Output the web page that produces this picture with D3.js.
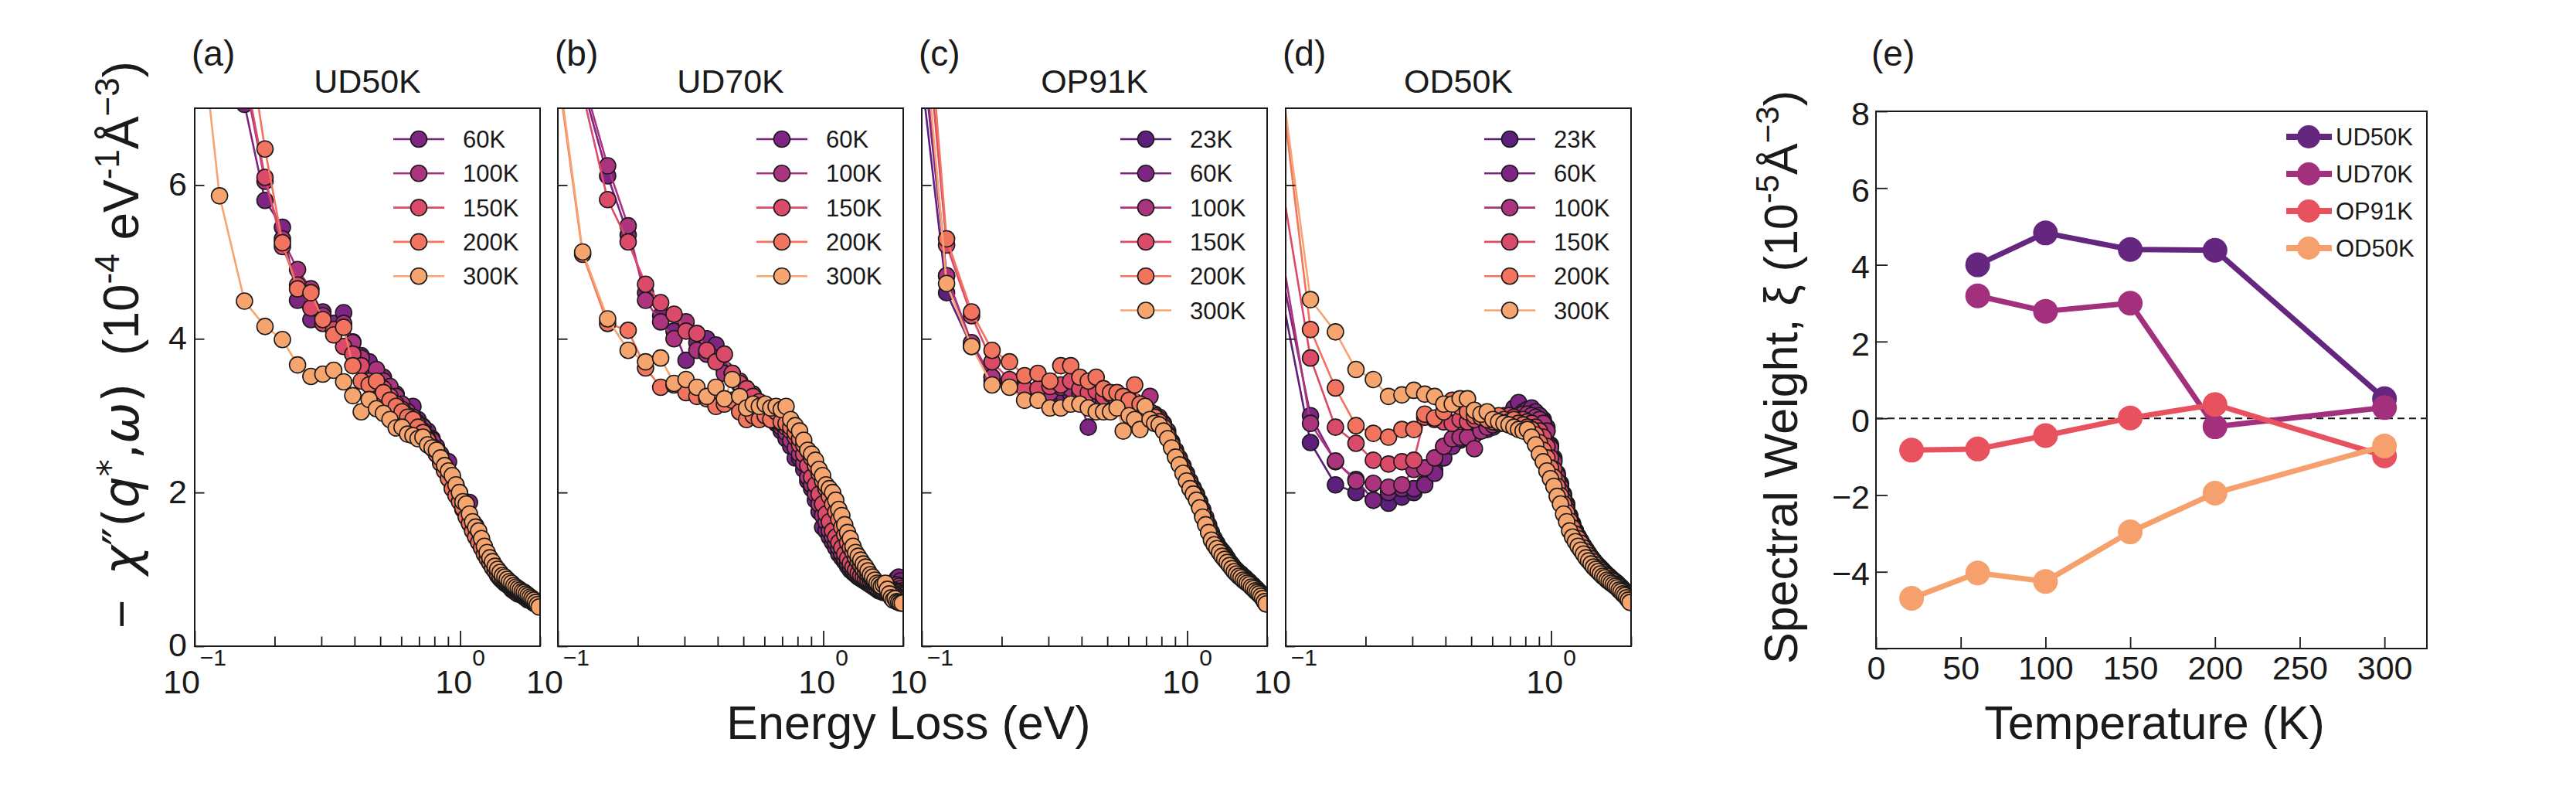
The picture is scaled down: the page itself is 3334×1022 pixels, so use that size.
<!DOCTYPE html>
<html>
<head>
<meta charset="utf-8">
<script src="https://cdn.jsdelivr.net/npm/d3@7"></script>
<style>
  body { margin: 0; background: #fff; }
  svg { display: block; }
  text { font-family: "Liberation Sans", Arial, Helvetica, sans-serif; fill: #1a1a1a; }
</style>
</head>
<body>
<script>
// energy grid shared by the four spectra panels (eV)
var energy = [0.064, 0.124, 0.154, 0.184, 0.214, 0.244, 0.274, 0.304,
  0.334, 0.364, 0.394, 0.424, 0.454, 0.484, 0.514, 0.544,
  0.574, 0.604, 0.634, 0.664, 0.694, 0.724, 0.754, 0.784,
  0.814, 0.844, 0.874, 0.904, 0.934, 0.964, 0.994, 1.024,
  1.054, 1.084, 1.114, 1.144, 1.174, 1.204, 1.234, 1.264,
  1.294, 1.324, 1.354, 1.384, 1.414, 1.444, 1.474, 1.504,
  1.534, 1.564, 1.594, 1.624, 1.654, 1.684, 1.714, 1.744,
  1.774, 1.804, 1.834, 1.864, 1.894, 1.924, 1.954, 1.984];

// (a) UD50K
var ud50k_60K = [20, 10.5, 7.05, 5.8, 5.45, 4.5, 4.25, 4.35,
  4.2, 4.34, 3.96, 3.78, 3.7, 3.58, 3.5, 3.35,
  3.28, 3.12, 3.1, 3.12, 2.95, 2.86, 2.8, 2.7,
  2.6, 2.5, 2.42, 2.4, 2.2, 2.1, 2.0, 1.9,
  1.85, 1.87, 1.62, 1.57, 1.45, 1.36, 1.28, 1.2,
  1.12, 1.05, 0.98, 0.92, 0.88, 0.85, 0.82, 0.8,
  0.78, 0.74, 0.72, 0.7, 0.68, 0.68, 0.66, 0.64,
  0.62, 0.6, 0.6, 0.58, 0.56, 0.55, 0.54, 0.53];
var ud50k_100K = [20, 11, 7.4, 6.05, 5.3, 4.9, 4.65, 4.3,
  4.1, 4.2, 3.95, 3.75, 3.55, 3.6, 3.45, 3.38,
  3.25, 3.15, 3.05, 2.98, 2.9, 2.85, 2.72, 2.68,
  2.55, 2.45, 2.35, 2.25, 2.15, 2.02, 1.95, 1.85,
  1.75, 1.65, 1.55, 1.48, 1.4, 1.33, 1.25, 1.18,
  1.12, 1.07, 1.02, 0.97, 0.94, 0.9, 0.87, 0.84,
  0.82, 0.79, 0.77, 0.75, 0.73, 0.7, 0.68, 0.66,
  0.64, 0.63, 0.61, 0.6, 0.58, 0.57, 0.55, 0.54];
var ud50k_150K = [20, 11.5, 7.5, 6.1, 5.2, 4.7, 4.4, 4.2,
  4.12, 3.9, 3.8, 3.65, 3.45, 3.4, 3.35, 3.25,
  3.15, 3.08, 3.0, 2.92, 2.88, 2.8, 2.7, 2.6,
  2.5, 2.42, 2.3, 2.2, 2.1, 1.98, 1.9, 1.78,
  1.7, 1.6, 1.52, 1.44, 1.36, 1.3, 1.22, 1.16,
  1.1, 1.04, 0.99, 0.95, 0.91, 0.88, 0.85, 0.83,
  0.8, 0.78, 0.76, 0.74, 0.72, 0.7, 0.68, 0.67,
  0.65, 0.63, 0.62, 0.6, 0.58, 0.57, 0.56, 0.55];
var ud50k_200K = [20, 12, 8.2, 6.47, 5.25, 4.65, 4.6, 4.25,
  4.05, 4.15, 3.65, 3.45, 3.4, 3.45, 3.3, 3.2,
  3.12, 3.05, 2.98, 2.95, 2.85, 2.78, 2.68, 2.58,
  2.5, 2.38, 2.28, 2.18, 2.05, 1.96, 1.88, 1.8,
  1.68, 1.6, 1.5, 1.42, 1.35, 1.28, 1.2, 1.14,
  1.08, 1.02, 0.98, 0.94, 0.9, 0.88, 0.86, 0.84,
  0.82, 0.8, 0.78, 0.76, 0.74, 0.72, 0.7, 0.69,
  0.67, 0.65, 0.64, 0.62, 0.6, 0.59, 0.58, 0.57];
var ud50k_300K = [15, 5.86, 4.49, 4.16, 3.99, 3.66, 3.51, 3.54,
  3.59, 3.44, 3.26, 3.05, 3.21, 3.09, 3.03, 2.95,
  2.84, 2.85, 2.76, 2.74, 2.7, 2.72, 2.62, 2.58,
  2.55, 2.45, 2.35, 2.28, 2.22, 2.1, 2.0, 1.88,
  1.85, 1.72, 1.62, 1.55, 1.5, 1.4, 1.3, 1.22,
  1.15, 1.1, 1.04, 1.0, 0.96, 0.92, 0.9, 0.87,
  0.84, 0.82, 0.79, 0.77, 0.75, 0.73, 0.71, 0.7,
  0.68, 0.66, 0.64, 0.62, 0.6, 0.57, 0.54, 0.51];

// (b) UD70K
var ud70k_60K = [15, 7.3, 6.12, 5.35, 4.6, 4.3, 4.1, 3.72,
  3.95, 4.0, 3.92, 3.6, 3.5, 3.4, 3.3, 3.2,
  3.1, 3.0, 2.95, 2.9, 2.8, 2.7, 2.6, 2.45,
  2.45, 2.3, 2.15, 2.05, 1.9, 1.75, 1.55, 1.5,
  1.42, 1.35, 1.28, 1.2, 1.15, 1.1, 1.04, 0.99,
  0.96, 0.93, 0.9, 0.88, 0.86, 0.84, 0.82, 0.8,
  0.78, 0.76, 0.74, 0.72, 0.72, 0.7, 0.7, 0.72,
  0.75, 0.78, 0.8, 0.84, 0.88, 0.9, 0.85, 0.78];
var ud70k_100K = [15, 7.4, 6.25, 5.47, 4.5, 4.22, 4.0, 4.22,
  3.85, 3.8, 3.75, 3.55, 3.55, 3.45, 3.35, 3.28,
  3.15, 3.05, 2.98, 2.92, 2.85, 2.78, 2.68, 2.58,
  2.5, 2.38, 2.2, 2.1, 1.98, 1.85, 1.7, 1.62,
  1.5, 1.42, 1.35, 1.28, 1.2, 1.14, 1.08, 1.03,
  0.99, 0.95, 0.92, 0.89, 0.87, 0.85, 0.83, 0.81,
  0.79, 0.77, 0.75, 0.74, 0.73, 0.72, 0.72, 0.73,
  0.74, 0.75, 0.77, 0.78, 0.8, 0.78, 0.75, 0.72];
var ud70k_150K = [15, 7.2, 5.81, 5.26, 4.71, 4.47, 4.32, 4.1,
  4.07, 3.85, 3.7, 3.8, 3.55, 3.42, 3.35, 3.25,
  3.18, 3.1, 3.02, 2.95, 2.9, 2.85, 2.8, 2.72,
  2.62, 2.5, 2.35, 2.2, 2.1, 1.98, 1.85, 1.72,
  1.62, 1.5, 1.42, 1.35, 1.28, 1.2, 1.14, 1.08,
  1.03, 0.99, 0.95, 0.92, 0.9, 0.88, 0.86, 0.85,
  0.84, 0.83, 0.82, 0.8, 0.79, 0.78, 0.77, 0.76,
  0.75, 0.74, 0.73, 0.72, 0.71, 0.7, 0.68, 0.66];
var ud70k_200K = [12.4, 5.1, 4.2, 4.11, 3.62, 3.37, 3.4, 3.3,
  3.25, 3.22, 3.12, 3.15, 3.2, 3.05, 2.95, 3.0,
  2.95, 3.0, 2.95, 3.05, 2.92, 2.9, 2.85, 2.78,
  2.7, 2.62, 2.55, 2.45, 2.35, 2.25, 2.15, 2.05,
  1.95, 1.85, 1.75, 1.65, 1.55, 1.45, 1.35, 1.28,
  1.22, 1.15, 1.1, 1.05, 1.0, 0.96, 0.93, 0.9,
  0.87, 0.84, 0.82, 0.8, 0.78, 0.76, 0.75, 0.73,
  0.72, 0.7, 0.68, 0.67, 0.65, 0.63, 0.62, 0.6];
var ud70k_300K = [12.6, 5.13, 4.26, 3.85, 3.7, 3.75, 3.42, 3.47,
  3.37, 3.25, 3.37, 3.22, 3.47, 3.25, 3.1, 3.15,
  3.12, 3.15, 3.1, 3.12, 3.08, 3.12, 2.95, 2.87,
  2.8, 2.68, 2.55, 2.5, 2.42, 2.3, 2.22, 2.1,
  2.05, 2.0, 1.9, 1.78, 1.7, 1.58, 1.48, 1.4,
  1.3, 1.22, 1.17, 1.12, 1.07, 1.03, 0.98, 0.93,
  0.9, 0.86, 0.82, 0.8, 0.78, 0.8, 0.82, 0.74,
  0.68, 0.63, 0.6, 0.62, 0.58, 0.57, 0.56, 0.56];

// (c) OP91K
var op91k_23K = [13.2, 4.6, 3.9, 3.45, 3.42, 3.35, 3.3, 3.32,
  3.35, 3.3, 3.28, 3.25, 3.3, 3.22, 3.25, 3.2,
  3.18, 3.15, 3.12, 3.1, 3.05, 3.0, 2.98, 2.92,
  2.85, 2.72, 2.6, 2.48, 2.38, 2.28, 2.18, 2.08,
  2.0, 1.92, 1.82, 1.7, 1.6, 1.5, 1.4, 1.33,
  1.28, 1.22, 1.18, 1.14, 1.1, 1.06, 1.02, 0.98,
  0.96, 0.93, 0.91, 0.88, 0.86, 0.84, 0.82, 0.79,
  0.76, 0.74, 0.72, 0.69, 0.67, 0.64, 0.6, 0.56];
var op91k_60K = [14, 4.82, 3.92, 3.5, 3.4, 3.35, 3.3, 3.25,
  3.3, 3.28, 3.2, 2.85, 3.1, 3.2, 3.15, 3.1,
  3.12, 3.05, 3.0, 3.05, 3.0, 2.95, 2.92, 2.88,
  2.82, 2.72, 2.6, 2.5, 2.4, 2.3, 2.2, 2.1,
  2.02, 1.95, 1.85, 1.75, 1.65, 1.55, 1.45, 1.38,
  1.32, 1.27, 1.22, 1.18, 1.13, 1.09, 1.05, 1.0,
  0.98, 0.95, 0.93, 0.9, 0.88, 0.85, 0.82, 0.8,
  0.78, 0.75, 0.73, 0.7, 0.68, 0.65, 0.6, 0.55];
var op91k_100K = [15, 4.82, 3.95, 3.5, 3.45, 3.35, 3.32, 3.3,
  3.37, 3.35, 3.3, 3.28, 3.25, 3.2, 3.22, 3.18,
  3.15, 3.1, 3.12, 3.08, 3.05, 3.25, 3.02, 2.98,
  2.9, 2.8, 2.66, 2.55, 2.45, 2.35, 2.25, 2.15,
  2.06, 1.98, 1.88, 1.78, 1.68, 1.58, 1.48, 1.4,
  1.34, 1.28, 1.24, 1.2, 1.15, 1.1, 1.06, 1.02,
  0.99, 0.96, 0.94, 0.91, 0.89, 0.86, 0.84, 0.81,
  0.79, 0.76, 0.74, 0.71, 0.69, 0.66, 0.62, 0.58];
var op91k_150K = [16, 5.22, 4.3, 3.7, 3.47, 3.35, 3.35, 3.38,
  3.4, 3.45, 3.35, 3.3, 3.32, 3.25, 3.28, 3.2,
  3.22, 3.15, 3.18, 3.1, 3.08, 3.05, 3.0, 2.95,
  2.88, 2.76, 2.64, 2.52, 2.42, 2.32, 2.22, 2.12,
  2.04, 1.96, 1.86, 1.74, 1.64, 1.54, 1.44, 1.37,
  1.31, 1.26, 1.21, 1.17, 1.12, 1.08, 1.04, 1.0,
  0.97, 0.94, 0.92, 0.89, 0.87, 0.84, 0.82, 0.79,
  0.77, 0.74, 0.72, 0.7, 0.67, 0.64, 0.6, 0.57];
var op91k_200K = [17.5, 5.3, 4.35, 3.85, 3.7, 3.52, 3.55, 3.45,
  3.65, 3.65, 3.5, 3.45, 3.5, 3.35, 3.3, 3.3,
  3.25, 3.2, 3.4, 3.15, 3.05, 3.0, 2.98, 2.92,
  2.85, 2.74, 2.62, 2.5, 2.38, 2.28, 2.18, 2.08,
  2.0, 1.92, 1.82, 1.72, 1.62, 1.52, 1.42, 1.35,
  1.29, 1.24, 1.19, 1.15, 1.11, 1.07, 1.03, 0.99,
  0.96, 0.93, 0.9, 0.88, 0.86, 0.83, 0.81, 0.78,
  0.76, 0.73, 0.71, 0.68, 0.66, 0.63, 0.59, 0.56];
var op91k_300K = [16, 4.72, 3.9, 3.4, 3.37, 3.2, 3.2, 3.1,
  3.1, 3.15, 3.15, 3.1, 3.05, 3.05, 3.05, 3.1,
  2.8, 3.0, 2.95, 2.82, 3.12, 2.95, 2.9, 2.88,
  2.8, 2.7, 2.58, 2.46, 2.36, 2.25, 2.15, 2.05,
  1.98, 1.9, 1.8, 1.68, 1.58, 1.48, 1.38, 1.32,
  1.27, 1.22, 1.17, 1.13, 1.09, 1.05, 1.01, 0.97,
  0.94, 0.91, 0.89, 0.86, 0.84, 0.82, 0.8, 0.77,
  0.75, 0.72, 0.7, 0.68, 0.65, 0.62, 0.58, 0.55];

// (d) OD50K
var od50k_23K = [7.75, 2.65, 2.1, 2.0, 1.9, 1.86, 1.94, 2.0,
  2.12, 2.3, 2.6, 2.62, 2.68, 2.75, 2.78, 2.85,
  2.82, 2.88, 2.9, 2.92, 2.95, 2.98, 3.0, 3.02,
  3.05, 3.05, 3.02, 3.0, 2.95, 2.85, 2.62, 2.45,
  2.25, 2.12, 1.98, 1.85, 1.7, 1.6, 1.5, 1.42,
  1.35, 1.3, 1.24, 1.19, 1.15, 1.11, 1.07, 1.04,
  1.0, 0.97, 0.94, 0.92, 0.89, 0.87, 0.85, 0.83,
  0.8, 0.78, 0.76, 0.74, 0.71, 0.68, 0.65, 0.61];
var od50k_60K = [7.93, 3.0, 2.4, 2.17, 1.9, 2.0, 2.05, 2.05,
  2.1, 2.25, 2.45, 2.6, 2.7, 2.72, 2.75, 2.8,
  2.85, 2.85, 2.9, 2.95, 3.0, 3.1, 3.17, 3.05,
  3.08, 3.1, 3.05, 3.0, 2.92, 2.8, 2.6, 2.42,
  2.22, 2.1, 1.96, 1.84, 1.7, 1.58, 1.5, 1.42,
  1.36, 1.3, 1.25, 1.2, 1.16, 1.12, 1.08, 1.04,
  1.01, 0.98, 0.95, 0.92, 0.9, 0.88, 0.85, 0.83,
  0.81, 0.79, 0.77, 0.74, 0.71, 0.68, 0.65, 0.61];
var od50k_100K = [8.77, 2.9, 2.41, 2.15, 2.12, 2.07, 2.1, 2.3,
  2.32, 2.45, 2.6, 2.7, 2.72, 2.72, 2.57, 2.8,
  2.85, 2.88, 2.9, 2.92, 2.95, 2.98, 3.0, 3.02,
  3.02, 3.0, 2.98, 2.95, 2.9, 2.8, 2.58, 2.4,
  2.22, 2.08, 1.95, 1.82, 1.68, 1.58, 1.5, 1.43,
  1.37, 1.31, 1.26, 1.21, 1.16, 1.12, 1.08, 1.05,
  1.02, 0.99, 0.96, 0.93, 0.91, 0.88, 0.86, 0.84,
  0.82, 0.79, 0.77, 0.74, 0.71, 0.68, 0.64, 0.6];
var od50k_150K = [9.77, 3.75, 2.85, 2.64, 2.42, 2.37, 2.4, 2.42,
  2.98, 2.95, 2.92, 2.9, 2.95, 2.92, 2.95, 2.98,
  2.95, 2.92, 2.98, 3.0, 3.0, 2.98, 2.95, 2.95,
  2.92, 2.9, 2.85, 2.8, 2.72, 2.6, 2.45, 2.3,
  2.15, 2.02, 1.9, 1.78, 1.66, 1.56, 1.48, 1.41,
  1.35, 1.29, 1.24, 1.19, 1.15, 1.11, 1.07, 1.03,
  1.0, 0.97, 0.94, 0.92, 0.89, 0.87, 0.85, 0.82,
  0.8, 0.78, 0.75, 0.73, 0.7, 0.67, 0.63, 0.6];
var od50k_200K = [12.4, 4.12, 3.36, 2.87, 2.77, 2.72, 2.82, 2.82,
  3.02, 2.97, 3.05, 3.2, 3.12, 3.05, 3.0, 2.98,
  2.95, 2.98, 3.0, 2.95, 2.92, 2.95, 2.9, 2.88,
  2.85, 2.82, 2.75, 2.65, 2.55, 2.45, 2.32, 2.2,
  2.08, 1.96, 1.85, 1.74, 1.63, 1.54, 1.46, 1.4,
  1.34, 1.28, 1.23, 1.18, 1.14, 1.1, 1.06, 1.02,
  0.99, 0.96, 0.93, 0.91, 0.88, 0.86, 0.84, 0.81,
  0.79, 0.77, 0.74, 0.72, 0.69, 0.66, 0.63, 0.59];
var od50k_300K = [12.0, 4.51, 4.09, 3.6, 3.47, 3.25, 3.27, 3.33,
  3.28, 3.25, 3.15, 3.15, 3.22, 3.22, 3.07, 3.02,
  3.05, 2.95, 2.92, 2.9, 2.88, 2.85, 2.82, 2.8,
  2.82, 2.72, 2.62, 2.5, 2.4, 2.28, 2.18, 2.08,
  1.95, 1.85, 1.72, 1.62, 1.5, 1.42, 1.36, 1.3,
  1.25, 1.2, 1.15, 1.11, 1.07, 1.03, 1.0, 0.97,
  0.94, 0.91, 0.89, 0.86, 0.84, 0.82, 0.8, 0.78,
  0.76, 0.73, 0.71, 0.68, 0.66, 0.63, 0.6, 0.57];

// (e) spectral weight vs temperature
var tempUD50K = [60, 100, 150, 200, 300];
var swUD50K = [4.0, 4.83, 4.4, 4.38, 0.51];
var tempUD70K = [60, 100, 150, 200, 300];
var swUD70K = [3.19, 2.79, 3.0, -0.22, 0.28];
var tempOP91K = [21, 60, 100, 150, 200, 300];
var swOP91K = [-0.83, -0.8, -0.45, 0.01, 0.36, -0.98];
var tempOD50K = [21, 60, 100, 150, 200, 300];
var swOD50K = [-4.69, -4.03, -4.25, -2.96, -1.95, -0.72];

var sampleNames = ['UD50K', 'UD70K', 'OP91K', 'OD50K'];
var panelTags = ['(a)', '(b)', '(c)', '(d)'];
var yTicksSpec = [0, 2, 4, 6];
var xMajorTicks = [0.1, 1];
var xMinorTicks = [0.2, 0.3, 0.4, 0.5, 0.6, 0.7, 0.8, 0.9, 2];
var tempTicks = [0, 50, 100, 150, 200, 250, 300];
var swTicks = [-6, -4, -2, 0, 2, 4, 6, 8];

var tempColors = {23: '#5c1f7b', 60: '#7e2482', 100: '#ac337d', 150: '#dc4a6a', 200: '#f2735e', 300: '#f7a56f'};
var sampleColors = ['#65267f', '#a2307d', '#e8525f', '#f6a06e'];

var panels = [
  {temps: [60, 100, 150, 200, 300], series: [ud50k_60K, ud50k_100K, ud50k_150K, ud50k_200K, ud50k_300K]},
  {temps: [60, 100, 150, 200, 300], series: [ud70k_60K, ud70k_100K, ud70k_150K, ud70k_200K, ud70k_300K]},
  {temps: [23, 60, 100, 150, 200, 300], series: [op91k_23K, op91k_60K, op91k_100K, op91k_150K, op91k_200K, op91k_300K]},
  {temps: [23, 60, 100, 150, 200, 300], series: [od50k_23K, od50k_60K, od50k_100K, od50k_150K, od50k_200K, od50k_300K]}
];

var W = 3334, H = 1022;
var INK = '#1a1a1a';
var svg = d3.select('body').append('svg').attr('width', W).attr('height', H);
svg.append('rect').attr('width', W).attr('height', H).attr('fill', '#fff');
var defs = svg.append('defs');

// ---------- panels (a)-(d) ----------
var panelLeft = [252, 722, 1193, 1664], panelW = 447, pTop = 140, pBottom = 836;

panels.forEach(function(p, pi) {
  var x0 = panelLeft[pi];
  var x = d3.scaleLog().domain([0.1, 2.0]).range([x0, x0 + panelW]);
  var y = d3.scaleLinear().domain([0, 7]).range([pBottom, pTop]);

  defs.append('clipPath').attr('id', 'clip' + pi)
    .append('rect').attr('x', x0).attr('y', pTop).attr('width', panelW).attr('height', pBottom - pTop);

  var plot = svg.append('g').attr('clip-path', 'url(#clip' + pi + ')');
  var line = d3.line().x(function(d, i) { return x(energy[i]); }).y(function(d) { return y(d); });

  p.series.forEach(function(vals, si) {
    var c = tempColors[p.temps[si]];
    var sg = plot.append('g');
    sg.append('path').datum(vals).attr('d', line)
      .attr('fill', 'none').attr('stroke', c).attr('stroke-width', 2.6);
    sg.selectAll('circle').data(vals).enter().append('circle')
      .attr('cx', function(d, i) { return x(energy[i]); })
      .attr('cy', function(d) { return y(d); })
      .attr('r', 10.5).attr('fill', c).attr('stroke', INK).attr('stroke-width', 1.6);
  });

  // ticks, pointing inwards
  var gx = svg.append('g').attr('transform', 'translate(0,' + pBottom + ')').attr('color', INK);
  gx.call(d3.axisBottom(x).tickValues(xMajorTicks).tickSize(-20).tickSizeOuter(0).tickFormat(''));
  gx.append('g').call(d3.axisBottom(x).tickValues(xMinorTicks).tickSize(-12.5).tickSizeOuter(0).tickFormat(''));
  gx.selectAll('.domain').remove();
  gx.selectAll('line').attr('stroke-width', 1.8);

  var gy = svg.append('g').attr('transform', 'translate(' + x0 + ',0)').attr('color', INK);
  gy.call(d3.axisLeft(y).tickValues(yTicksSpec).tickSize(-12.5).tickSizeOuter(0).tickPadding(10)
    .tickFormat(pi === 0 ? d3.format('d') : ''));
  gy.select('.domain').remove();
  gy.selectAll('line').attr('stroke-width', 1.8);
  gy.selectAll('text').attr('font-size', 43).attr('dy', '0.3em')
    .attr('font-family', '"Liberation Sans", Arial, sans-serif').attr('fill', INK);

  // x tick labels as 10^n: base and exponent as separate texts, centred together on the tick
  xMajorTicks.forEach(function(v) {
    var base = svg.append('text').attr('y', 897).attr('font-size', 43).text('10');
    var expo = svg.append('text').attr('y', 861).attr('font-size', 30).text(v < 1 ? '\u22121' : '0');
    var wb = base.node().getComputedTextLength(), we = expo.node().getComputedTextLength();
    var start = x(v) - (wb + we) / 2;
    base.attr('x', start);
    expo.attr('x', start + wb);
  });

  // frame
  svg.append('rect').attr('x', x0).attr('y', pTop).attr('width', panelW).attr('height', pBottom - pTop)
    .attr('fill', 'none').attr('stroke', INK).attr('stroke-width', 2);

  // title and tag
  svg.append('text').attr('x', x0 + panelW / 2).attr('y', 120).attr('text-anchor', 'middle')
    .attr('font-size', 43).text(sampleNames[pi]);
  svg.append('text').attr('x', x0 - 4).attr('y', 85).attr('font-size', 46).text(panelTags[pi]);

  // legend
  p.temps.forEach(function(T, k) {
    var ly = 180 + 44.3 * k;
    var c = tempColors[T];
    svg.append('line').attr('x1', x0 + 257).attr('x2', x0 + 323).attr('y1', ly).attr('y2', ly)
      .attr('stroke', c).attr('stroke-width', 2.6);
    svg.append('circle').attr('cx', x0 + 290).attr('cy', ly).attr('r', 10.5)
      .attr('fill', c).attr('stroke', INK).attr('stroke-width', 1.6);
    svg.append('text').attr('x', x0 + 347).attr('y', ly + 11).attr('font-size', 31).text(T + 'K');
  });
});

// shared labels for (a)-(d)
svg.append('text').attr('x', 1176).attr('y', 956).attr('text-anchor', 'middle')
  .attr('font-size', 61).text('Energy Loss (eV)');

var yl = svg.append('text').attr('transform', 'translate(179,446) rotate(-90)')
  .attr('text-anchor', 'middle').attr('font-size', 64);
yl.append('tspan').text('\u2212\u2002');
yl.append('tspan').attr('font-family', '"DejaVu Sans", sans-serif').attr('font-style', 'italic').text('\u03c7');
yl.append('tspan').attr('font-family', '"DejaVu Sans", sans-serif').text('\u2033(');
yl.append('tspan').attr('font-family', '"DejaVu Sans", sans-serif').attr('font-style', 'italic').text('q');
yl.append('tspan').attr('font-family', '"DejaVu Sans", sans-serif').attr('font-size', 44).attr('dy', -21).text('*');
yl.append('tspan').attr('font-family', '"DejaVu Sans", sans-serif').attr('dy', 21).text(',');
yl.append('tspan').attr('font-family', '"DejaVu Sans", sans-serif').attr('font-style', 'italic').text('\u03c9');
yl.append('tspan').attr('font-family', '"DejaVu Sans", sans-serif').text(')');
yl.append('tspan').text('\u00a0\u00a0(10');
yl.append('tspan').attr('font-size', 44).attr('dy', -25).text('-4');
yl.append('tspan').attr('dy', 25).text(' eV');
yl.append('tspan').attr('font-size', 44).attr('dy', -25).text('-1');
yl.append('tspan').attr('dy', 25).text('\u00c5');
yl.append('tspan').attr('font-size', 44).attr('dy', -25).text('\u22123');
yl.append('tspan').attr('dy', 25).text(')');

// ---------- panel (e) ----------
var eL = 2428, eR = 3141, eT = 144, eB = 839;
var xe = d3.scaleLinear().domain([0, 325]).range([eL, eR]);
var ye = d3.scaleLinear().domain([-6, 8]).range([eB, eT]);

svg.append('line').attr('x1', xe(0)).attr('x2', xe(325)).attr('y1', ye(0)).attr('y2', ye(0))
  .attr('stroke', INK).attr('stroke-width', 2).attr('stroke-dasharray', '9,6');

var sw = [[tempUD50K, swUD50K], [tempUD70K, swUD70K], [tempOP91K, swOP91K], [tempOD50K, swOD50K]];
var lineE = d3.line().x(function(d) { return xe(d[0]); }).y(function(d) { return ye(d[1]); });
sw.forEach(function(s, si) {
  var pts = d3.zip(s[0], s[1]);
  var g = svg.append('g');
  g.append('path').datum(pts).attr('d', lineE).attr('fill', 'none')
    .attr('stroke', sampleColors[si]).attr('stroke-width', 7).attr('stroke-linejoin', 'round');
  g.selectAll('circle').data(pts).enter().append('circle')
    .attr('cx', function(d) { return xe(d[0]); }).attr('cy', function(d) { return ye(d[1]); })
    .attr('r', 16).attr('fill', sampleColors[si]);
});

var gxe = svg.append('g').attr('transform', 'translate(0,' + eB + ')').attr('color', INK);
gxe.call(d3.axisBottom(xe).tickValues(tempTicks).tickSize(-15).tickSizeOuter(0).tickPadding(9).tickFormat(d3.format('d')));
gxe.select('.domain').remove();
gxe.selectAll('line').attr('stroke-width', 1.8);
gxe.selectAll('text').attr('font-size', 43).attr('dy', '0.71em').attr('fill', INK)
  .attr('font-family', '"Liberation Sans", Arial, sans-serif');

var gye = svg.append('g').attr('transform', 'translate(' + eL + ',0)').attr('color', INK);
gye.call(d3.axisLeft(ye).tickValues(swTicks).tickSize(-15).tickSizeOuter(0).tickPadding(8)
  .tickFormat(function(d) { return d === -6 ? '' : d3.format('d')(d); }));
gye.select('.domain').remove();
gye.selectAll('line').attr('stroke-width', 1.8);
gye.selectAll('text').attr('font-size', 43).attr('dy', '0.4em').attr('fill', INK)
  .attr('font-family', '"Liberation Sans", Arial, sans-serif');

svg.append('rect').attr('x', eL).attr('y', eT).attr('width', eR - eL).attr('height', eB - eT)
  .attr('fill', 'none').attr('stroke', INK).attr('stroke-width', 2);

svg.append('text').attr('x', eL - 6).attr('y', 85).attr('font-size', 46).text('(e)');
svg.append('text').attr('x', (eL + eR) / 2 + 4).attr('y', 956).attr('text-anchor', 'middle')
  .attr('font-size', 61).text('Temperature (K)');

var yle = svg.append('text').attr('transform', 'translate(2326,488) rotate(-90)')
  .attr('text-anchor', 'middle').attr('font-size', 61);
yle.append('tspan').text('Spectral Weight, \u03be (10');
yle.append('tspan').attr('font-size', 42).attr('dy', -24).text('-5');
yle.append('tspan').attr('dy', 24).text('\u00c5');
yle.append('tspan').attr('font-size', 42).attr('dy', -24).text('\u22123');
yle.append('tspan').attr('dy', 24).text(')');

// legend (e)
sampleNames.forEach(function(name, k) {
  var ly = 177 + 48 * k;
  svg.append('line').attr('x1', 2959).attr('x2', 3018).attr('y1', ly).attr('y2', ly)
    .attr('stroke', sampleColors[k]).attr('stroke-width', 8);
  svg.append('circle').attr('cx', 2988).attr('cy', ly).attr('r', 15).attr('fill', sampleColors[k]);
  svg.append('text').attr('x', 3023).attr('y', ly + 11).attr('font-size', 31).text(name);
});
</script>
</body>
</html>
